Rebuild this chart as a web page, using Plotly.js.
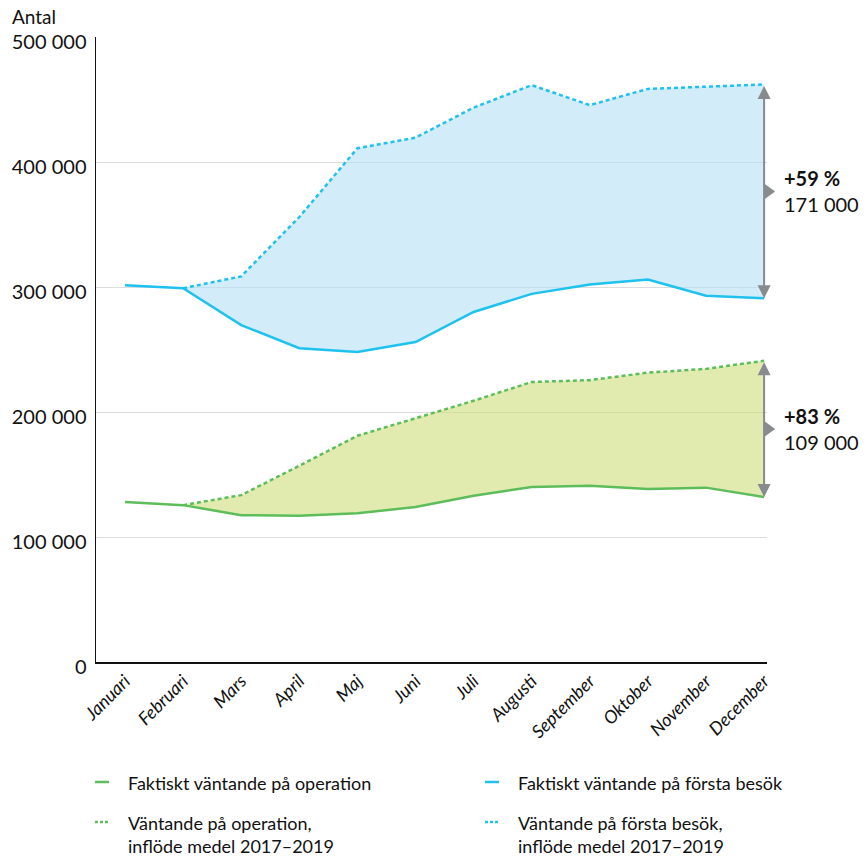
<!DOCTYPE html>
<html>
<head>
<meta charset="utf-8">
<script src="https://cdn.plot.ly/plotly-3.0.1.min.js"></script>
<style>
  html, body { margin: 0; padding: 0; background: #fff; }
  #chart { width: 867px; height: 857px; }
</style>
</head>
<body>
<div id="chart"></div>
<script>
// Months on the x axis
const months = ["Januari", "Februari", "Mars", "April", "Maj", "Juni", "Juli",
                "Augusti", "September", "Oktober", "November", "December"];

// Waiting for surgery (operation)
const operationActual = [128000, 125500, 117500, 117000, 119000, 124000, 133000, 140000, 141000, 138500, 139500, 132000];
const operationInflow = [null, 125500, 133500, 157000, 181000, 195000, 209000, 224000, 225500, 231500, 234500, 241000];

// Waiting for first visit (första besök)
const visitActual = [301500, 299000, 269500, 251000, 248000, 256000, 280000, 294500, 302000, 306000, 293000, 291000];
const visitInflow = [null, 299000, 308500, 356000, 411000, 419500, 443500, 461500, 445500, 458500, 460000, 462000];

// Legend labels
const legendLabels = [
  "Faktiskt väntande på operation",
  "Faktiskt väntande på första besök",
  "Väntande på operation,<br>inflöde medel 2017–2019",
  "Väntande på första besök,<br>inflöde medel 2017–2019"
];

// Gap labels at December
const gapLabels = [
  { pct: "+59 %", abs: "171 000" },
  { pct: "+83 %", abs: "109 000" }
];

const FONT = "Lato, 'Open Sans', sans-serif";
const BLUE = "#1fc1ef";
const GREEN = "#5dbd5b";
const BLUE_FILL = "rgba(182,224,246,0.6)";
const GREEN_FILL = "rgba(206,222,122,0.6)";
const ARROW = "#878b8e";

const last = months.length - 1;
const mX = months.slice(1);
const xRange = [-0.5, last + 0.05];

function bandTraces(lower, upper, fill) {
  return [
    { x: mX, y: lower.slice(1), type: "scatter", mode: "lines", line: { width: 0 },
      showlegend: false, hoverinfo: "skip" },
    { x: mX, y: upper.slice(1), type: "scatter", mode: "lines", line: { width: 0 },
      fill: "tonexty", fillcolor: fill, showlegend: false, hoverinfo: "skip" }
  ];
}

const traces = [
  ...bandTraces(visitActual, visitInflow, BLUE_FILL),
  ...bandTraces(operationActual, operationInflow, GREEN_FILL),
  { x: months, y: visitInflow, type: "scatter", mode: "lines",
    line: { color: BLUE, width: 2.5, dash: "4px,3px" }, showlegend: false },
  { x: months, y: visitActual, type: "scatter", mode: "lines",
    line: { color: BLUE, width: 2.5 }, showlegend: false },
  { x: months, y: operationInflow, type: "scatter", mode: "lines",
    line: { color: GREEN, width: 2.5, dash: "4px,3px" }, showlegend: false },
  { x: months, y: operationActual, type: "scatter", mode: "lines",
    line: { color: GREEN, width: 2.5 }, showlegend: false }
];

// Plot area geometry (pixels) used to place legend items in paper units
const W = 867, H = 857;
const M = { l: 96, r: 100, t: 37, b: 195 };
const pw = W - M.l - M.r, ph = H - M.t - M.b;
const px = v => (v - M.l) / pw;
const py = v => (H - M.b - v) / ph;
// paper position of the last month on the category axis
const lastPaper = (last - xRange[0]) / (xRange[1] - xRange[0]);

const annotations = [];
const shapes = [];

// Y axis caption
annotations.push({ xref: "paper", yref: "paper", x: px(10), y: py(17),
  xanchor: "left", yanchor: "middle", showarrow: false, text: "Antal",
  font: { family: FONT, size: 19, color: "#111" } });

// Gap arrows and labels at December
const gaps = [
  { lo: visitActual[last], hi: visitInflow[last], label: gapLabels[0] },
  { lo: operationActual[last], hi: operationInflow[last], label: gapLabels[1] }
];
gaps.forEach(g => {
  const mid = (g.lo + g.hi) / 2;
  annotations.push({ x: last, y: g.lo, ax: last, ay: g.hi, xref: "x", yref: "y",
    axref: "x", ayref: "y", text: "", showarrow: true, arrowhead: 2, arrowsize: 1.3,
    arrowwidth: 2, arrowcolor: ARROW, arrowside: "end+start", standoff: 0, startstandoff: 0 });
  shapes.push({ type: "path", xref: "paper", yref: "y", xsizemode: "pixel", ysizemode: "pixel",
    xanchor: lastPaper, yanchor: mid, path: "M0,-8 L11,0 L0,8 Z",
    fillcolor: ARROW, line: { width: 0 } });
  annotations.push({ x: last, y: mid, xref: "x", yref: "y", xshift: 18,
    xanchor: "left", yanchor: "middle", align: "left", showarrow: false,
    text: "<b>" + g.label.pct + "</b><br>" + g.label.abs,
    font: { family: FONT, size: 20, color: "#111" } });
});

// Legend, two columns
const legendItems = [
  { text: legendLabels[0], color: GREEN, dash: "solid", x: 95, y: 782 },
  { text: legendLabels[1], color: BLUE, dash: "solid", x: 485, y: 782 },
  { text: legendLabels[2], color: GREEN, dash: "dot", x: 95, y: 822 },
  { text: legendLabels[3], color: BLUE, dash: "dot", x: 485, y: 822 }
];
legendItems.forEach(it => {
  shapes.push({ type: "line", xref: "paper", yref: "paper",
    x0: px(it.x), x1: px(it.x + 14), y0: py(it.y), y1: py(it.y),
    line: { color: it.color, width: 2.5, dash: it.dash === "dot" ? "3px,2px" : "solid" } });
  annotations.push({ xref: "paper", yref: "paper", x: px(it.x + 31), y: py(it.y - 12),
    xanchor: "left", yanchor: "top", align: "left", showarrow: false, text: it.text,
    font: { family: FONT, size: 18, color: "#111" } });
});

const layout = {
  width: W, height: H,
  margin: M,
  paper_bgcolor: "#fff", plot_bgcolor: "#fff",
  separators: ". ",
  font: { family: FONT, color: "#111" },
  showlegend: false,
  xaxis: {
    type: "category", categoryarray: months, range: xRange,
    showgrid: false, zeroline: false, showline: true, linecolor: "#111", linewidth: 1.5,
    ticks: "", tickangle: -45,
    tickfont: { family: FONT, size: 18, style: "italic", color: "#111" }
  },
  yaxis: {
    range: [0, 500000], dtick: 100000, tickformat: ",",
    showgrid: true, gridcolor: "#dcdcdc", gridwidth: 1, zeroline: false,
    showline: true, linecolor: "#111", linewidth: 1.5, ticks: "",
    ticklabelshift: 5, ticklabelstandoff: 4,
    tickfont: { family: FONT, size: 20, color: "#111" }
  },
  annotations: annotations,
  shapes: shapes
};

Plotly.newPlot("chart", traces, layout, { displayModeBar: false, staticPlot: true });
</script>
</body>
</html>
